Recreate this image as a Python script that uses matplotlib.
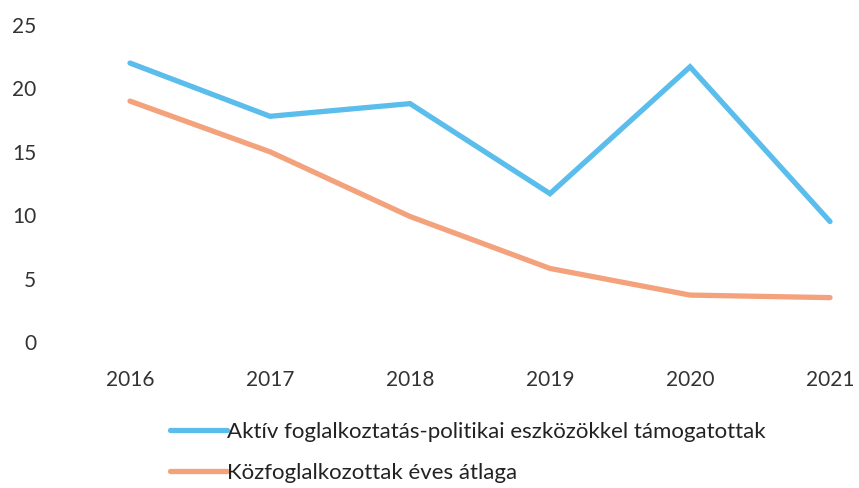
import matplotlib
matplotlib.use("Agg")
import matplotlib.pyplot as plt

plt.rcParams["font.family"] = ["Lato", "DejaVu Sans"]

years = ["2016", "2017", "2018", "2019", "2020", "2021"]
aktiv = [22.0, 17.8, 18.8, 11.7, 21.7, 9.5]
kozfog = [19.0, 15.0, 9.9, 5.8, 3.7, 3.5]

BLUE = "#5BBDEC"
ORANGE = "#F4A27C"

fig = plt.figure(figsize=(8.59, 4.88), dpi=100)
ax = fig.add_axes([60 / 859, (488 - 342) / 488, 785 / 859, 317 / 488])

x = list(range(len(years)))
ax.plot(x, aktiv, color=BLUE, lw=3.8, solid_capstyle="round", solid_joinstyle="miter",
        label="Aktív foglalkoztatás-politikai eszközökkel támogatottak")
ax.plot(x, kozfog, color=ORANGE, lw=3.8, solid_capstyle="round", solid_joinstyle="miter",
        label="Közfoglalkozottak éves átlaga")

ax.set_xlim(-0.5, 5.107)
ax.set_ylim(0, 25)
ax.set_yticks([0, 5, 10, 15, 20, 25])
ax.set_xticks(x)
ax.set_xticklabels(years)
for s in ax.spines.values():
    s.set_visible(False)
ax.tick_params(axis="both", length=0, labelsize=15, colors="#333333")
ax.tick_params(axis="y", pad=17)
ax.tick_params(axis="x", pad=20)

leg = fig.legend(loc="upper left", bbox_to_anchor=(170 / 859, 1 - 422 / 488),
                 frameon=False, fontsize=16, handlelength=2.55, handletextpad=0.0,
                 labelspacing=0.95, borderaxespad=0, borderpad=0)
for t in leg.get_texts():
    t.set_color("#222222")

fig.savefig("out.png", dpi=100)
